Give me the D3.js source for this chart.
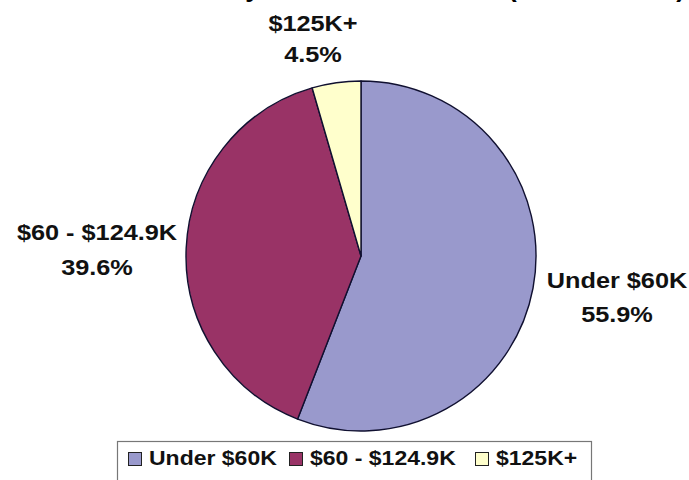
<!DOCTYPE html>
<html>
<head>
<meta charset="utf-8">
<script src="https://cdn.jsdelivr.net/npm/d3@7"></script>
<style>
  html, body { margin: 0; padding: 0; background: #fff; }
  svg { display: block; font-family: Arial, "Liberation Sans", sans-serif; font-weight: bold; }
</style>
</head>
<body>
<svg id="chart" width="689" height="480"></svg>
<script>
// Household income brackets and their share of households (%)
const categories = ["Under $60K", "$60 - $124.9K", "$125K+"];
const shares = [55.9, 39.6, 4.5];
const sliceColors = ["#9999cc", "#993366", "#ffffcc"];
const chartTitle = "Total Households by Household Income (2000 Census)";

// Layout
const W = 689, H = 480;
const cx = 361, cy = 256, radius = 175;
const textStretch = 1.15;            // wide lettering used throughout
// label anchor (centre x, first baseline y) for each slice label
const labelAnchors = [[617, 288], [97, 240], [313, 31]];
const labelLineGap = [34, 35, 31];

const svg = d3.select("#chart");

// Title (sits above the visible area; only its descenders reach the top edge)
svg.append("text")
  .attr("x", 5).attr("y", -3)
  .attr("textLength", 680).attr("lengthAdjust", "spacingAndGlyphs")
  .attr("font-size", 24)
  .attr("fill", "#000")
  .text(chartTitle);

const data = categories.map((c, i) => ({ cat: c, value: shares[i], color: sliceColors[i], idx: i }));

const pie = d3.pie().sort(null).value(d => d.value);
const arc = d3.arc().innerRadius(0).outerRadius(radius);

const g = svg.append("g").attr("transform", `translate(${cx},${cy})`);
g.selectAll("path")
  .data(pie(data))
  .join("path")
  .attr("d", arc)
  .attr("fill", d => d.data.color)
  .attr("stroke", "#101030")
  .attr("stroke-width", 1.4)
  .attr("stroke-linejoin", "round");

// Slice labels: category name + percentage
const fmt = d3.format(".1f");
const labels = svg.append("g").selectAll("g")
  .data(data)
  .join("g")
  .attr("transform", d => `translate(${labelAnchors[d.idx][0]},${labelAnchors[d.idx][1]}) scale(${textStretch},1)`);
labels.append("text")
  .attr("text-anchor", "middle")
  .attr("font-size", 22)
  .attr("fill", "#111")
  .text(d => d.cat);
labels.append("text")
  .attr("text-anchor", "middle")
  .attr("y", d => labelLineGap[d.idx])
  .attr("font-size", 22)
  .attr("fill", "#111")
  .text(d => fmt(d.value) + "%");

// Legend
const legend = svg.append("g");
legend.append("rect")
  .attr("x", 117.5).attr("y", 441.5)
  .attr("width", 474).attr("height", 50)
  .attr("fill", "#fff")
  .attr("stroke", "#777").attr("stroke-width", 1.2);

const swatch = 13;
const itemX = [128, 289, 475];
const items = legend.selectAll("g.item")
  .data(data)
  .join("g")
  .attr("class", "item")
  .attr("transform", d => `translate(${itemX[d.idx]},452)`);
items.append("rect")
  .attr("x", 0.5).attr("y", 0.5)
  .attr("width", swatch).attr("height", swatch)
  .attr("fill", d => d.color)
  .attr("stroke", "#222").attr("stroke-width", 1);
items.append("text")
  .attr("transform", `translate(${swatch + 8},${swatch}) scale(${textStretch},1)`)
  .attr("font-size", 20)
  .attr("fill", "#111")
  .text(d => d.cat);
</script>
</body>
</html>
